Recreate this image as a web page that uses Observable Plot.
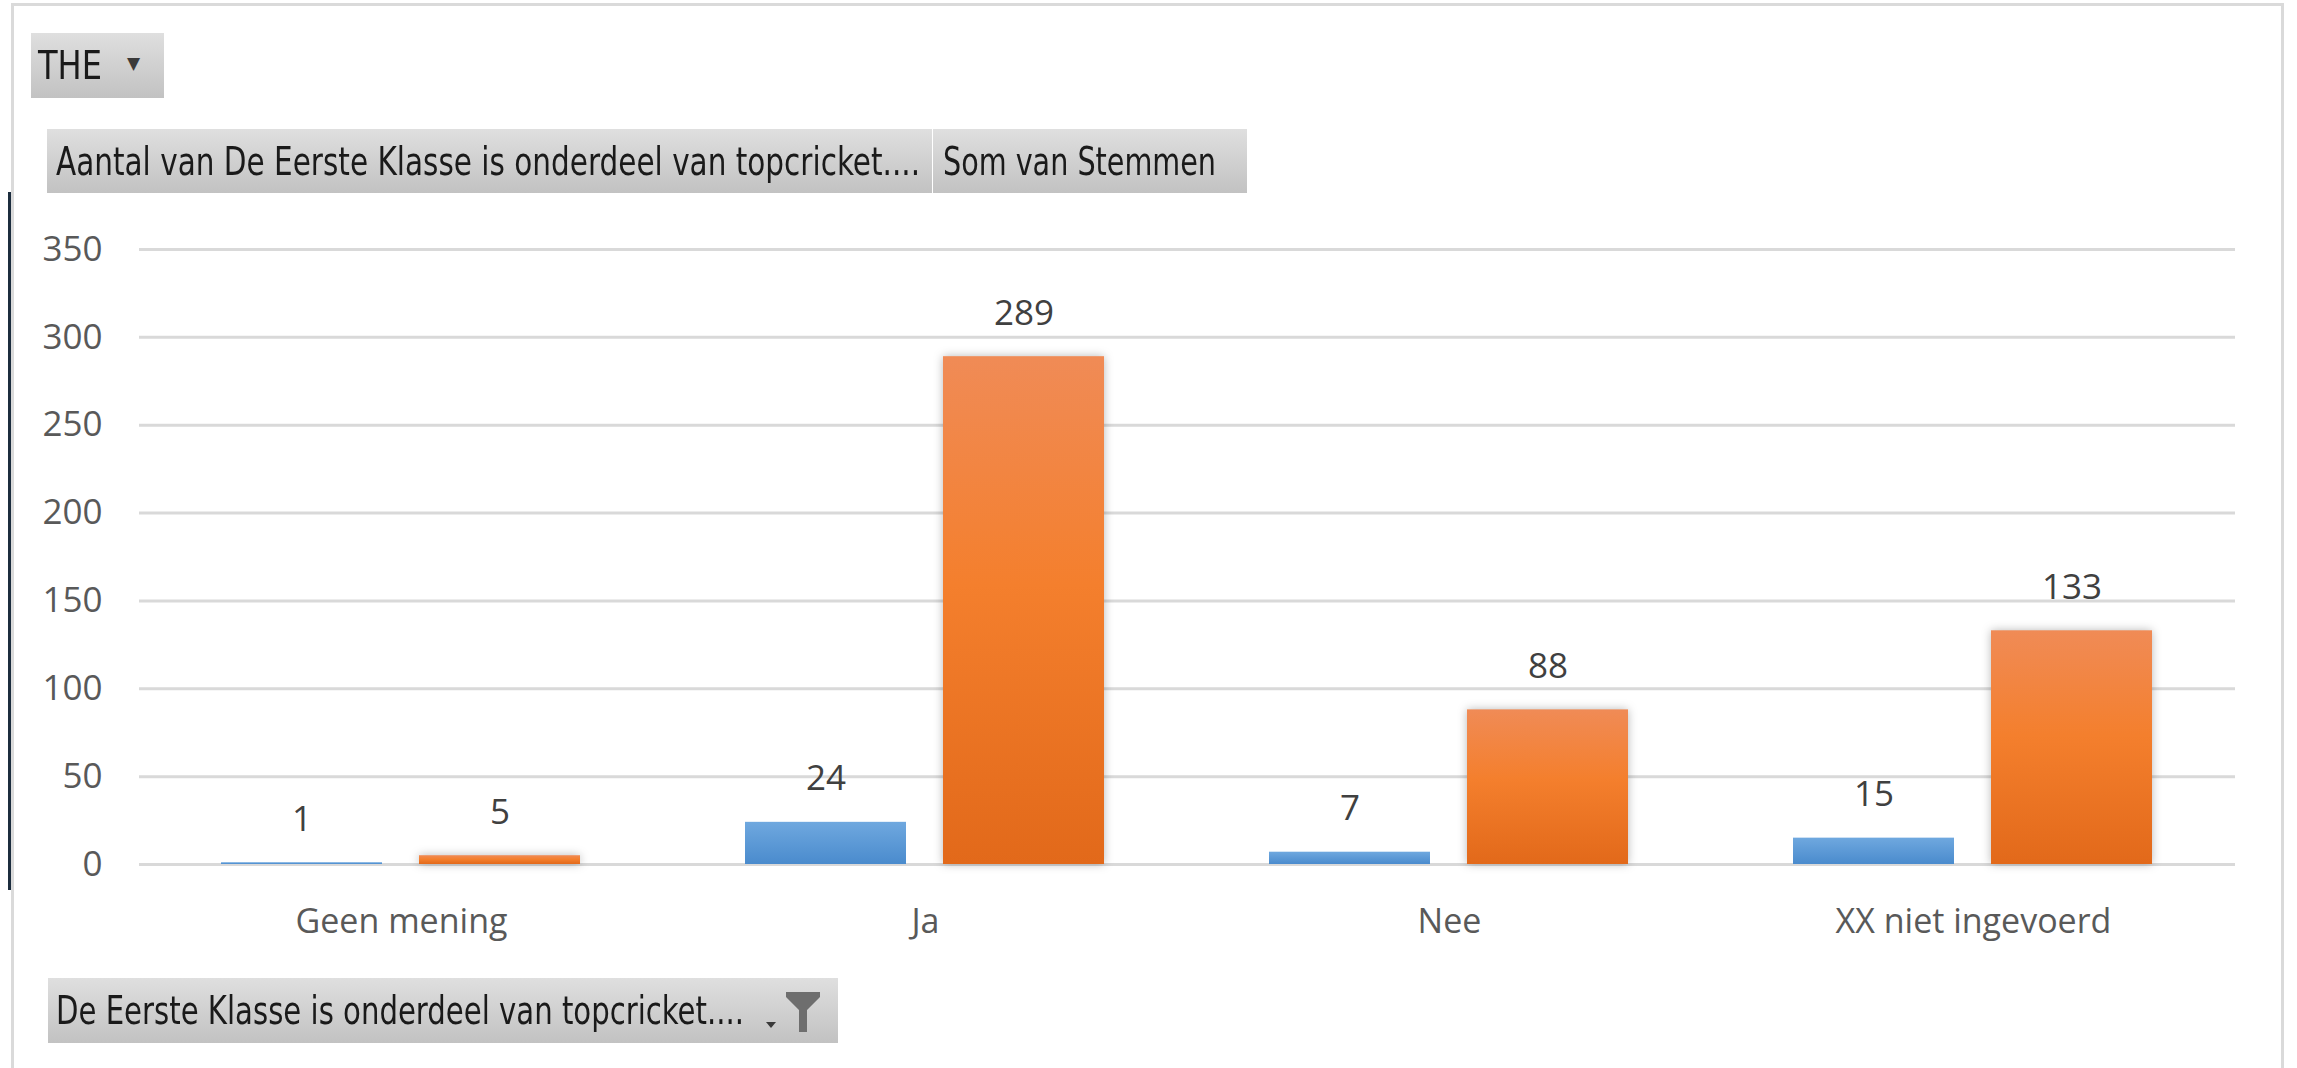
<!DOCTYPE html>
<html><head><meta charset="utf-8">
<script src="https://cdn.jsdelivr.net/npm/d3@7"></script>
<script src="https://cdn.jsdelivr.net/npm/@observablehq/plot@0.6"></script>
<style>
html,body{margin:0;padding:0;background:#fff;}
#page{position:relative;width:2297px;height:1068px;overflow:hidden;background:#fff;
  font-family:"Liberation Sans Narrow","DejaVu Sans Condensed","Arial Narrow",sans-serif;}
.frame{position:absolute;left:11px;top:3px;width:2273px;height:1100px;border:3px solid #dadada;border-bottom:none;box-sizing:border-box;}
.darkline{position:absolute;left:8px;top:192px;width:3px;height:698px;background:#1c2d3e;}
.btn{position:absolute;background:linear-gradient(#dfdfdf,#c2c2c2);color:#1a1a1a;white-space:nowrap;
  display:flex;align-items:center;box-sizing:border-box;overflow:hidden;}
.btn .t{display:inline-block;transform-origin:left center;font-size:39px;}
#chart{position:absolute;left:0;top:200px;}
</style>
</head><body>
<div id="page">
  <div class="frame"></div>
  <div class="darkline"></div>
  <div class="btn" style="left:31px;top:33px;width:133px;height:65px;padding-left:7px;">
    <span class="t" data-w="64">THE</span>
    <span style="position:absolute;left:96px;top:20px;font-size:17px;color:#3a3a3a;font-family:'DejaVu Sans',sans-serif;">▼</span>
  </div>
  <div class="btn" style="left:47px;top:129px;width:885px;height:64px;padding-left:9px;">
    <span class="t" id="hdr1" data-w="864"></span>
  </div>
  <div class="btn" style="left:933px;top:129px;width:314px;height:64px;padding-left:10px;">
    <span class="t" id="hdr2" data-w="273"></span>
  </div>
  <div id="chart"></div>
  <div class="btn" style="left:48px;top:978px;width:790px;height:65px;padding-left:8px;">
    <span class="t" id="ftr" data-w="688"></span>
    <svg style="position:absolute;left:716px;top:10px;" width="70" height="48" viewBox="0 0 70 48">
      <path d="M2 34 L12 34 L7 40 Z" fill="#3a3a3a"/>
      <path d="M22 4 L56 4 L56 9 L43 22 L43 44 L35 44 L35 22 L22 9 Z" fill="#6e6e6e"/>
    </svg>
  </div>
</div>
<script>
const categories = ["Geen mening", "Ja", "Nee", "XX niet ingevoerd"];
const seriesNames = ["Aantal van De Eerste Klasse is onderdeel van topcricket....", "Som van Stemmen"];
const aantalValues = [1, 24, 7, 15];
const stemmenValues = [5, 289, 88, 133];
const yTicks = [0, 50, 100, 150, 200, 250, 300, 350];
const filterLabel = "De Eerste Klasse is onderdeel van topcricket....";
const pageFilter = "THE";

document.getElementById("hdr1").textContent = seriesNames[0];
document.getElementById("hdr2").textContent = seriesNames[1];
document.getElementById("ftr").textContent = filterLabel;

const rows = categories.flatMap((c, i) => [
  {category: c, series: seriesNames[0], value: aantalValues[i]},
  {category: c, series: seriesNames[1], value: stemmenValues[i]}
]);

const chart = Plot.plot({
  width: 2297,
  height: 760,
  marginLeft: 137,
  marginRight: 61,
  marginTop: 49,
  marginBottom: 96,
  style: {fontFamily: "'Open Sans', sans-serif", fontSize: "35px", color: "#595959", background: "transparent", overflow: "visible"},
  fx: {domain: categories, padding: 0, label: null},
  x: {domain: seriesNames, paddingInner: 0.186, paddingOuter: 0.412, axis: null},
  y: {domain: [0, 350]},
  color: {type: "ordinal", domain: seriesNames, range: ["url(#gradBlue)", "url(#gradOrange)"]},
  marks: [
    Plot.ruleY(yTicks, {stroke: "#d9d9d9", strokeWidth: 3}),
    Plot.axisY({ticks: yTicks, tickSize: 0, tickPadding: 37, fontSize: 35, label: null}),
    Plot.axisFx({anchor: "bottom", tickSize: 0, tickPadding: 44, fontSize: 34, label: null}),
    Plot.barY(rows, {fx: "category", x: "series", y: "value", fill: "series"}),
    Plot.text(rows, {fx: "category", x: "series", y: "value", text: d => String(d.value),
      dy: -32, lineAnchor: "bottom", fontSize: 35, fill: "#404040"})
  ]
});

const svg = d3.select(chart);
const defs = svg.insert("defs", ":first-child");
function grad(id, stops) {
  const g = defs.append("linearGradient").attr("id", id).attr("x1", 0).attr("y1", 0).attr("x2", 0).attr("y2", 1);
  stops.forEach(([o, c]) => g.append("stop").attr("offset", o).attr("stop-color", c));
}
grad("gradBlue", [["0%", "#6fa8df"], ["100%", "#4a8bcd"]]);
grad("gradOrange", [["0%", "#f08b56"], ["45%", "#f47f2d"], ["100%", "#e2691a"]]);
svg.selectAll("rect").filter(function () { return (this.getAttribute("fill") || "").includes("gradOrange"); })
  .style("filter", "drop-shadow(0px 0px 5px rgba(0,0,0,0.28))");

document.getElementById("chart").appendChild(chart);

function fit() {
  document.querySelectorAll(".btn .t").forEach(el => {
    el.style.transform = "none";
    const w = el.getBoundingClientRect().width;
    const target = +el.dataset.w;
    if (w > 0) el.style.transform = `scaleX(${target / w})`;
  });
}
fit();
if (document.fonts && document.fonts.ready) document.fonts.ready.then(fit);
</script>
</body></html>
